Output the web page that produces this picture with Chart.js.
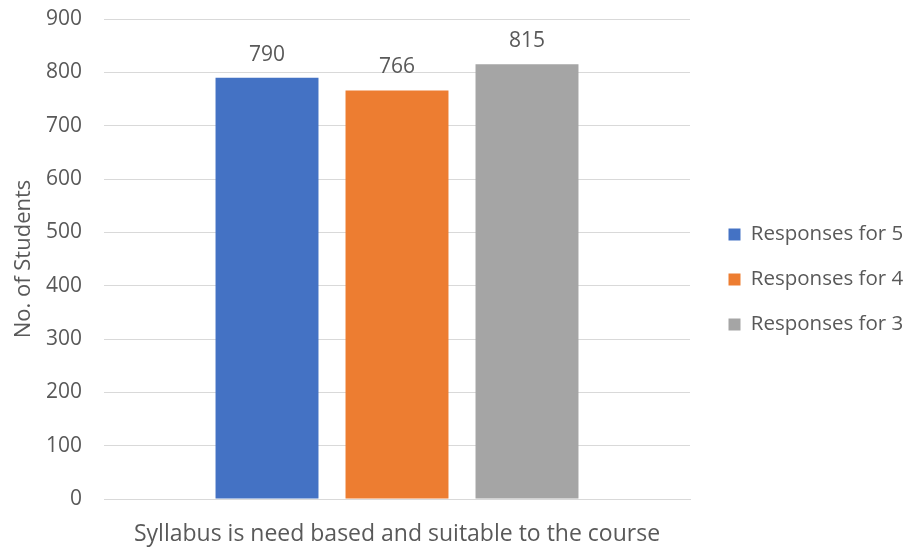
<!DOCTYPE html>
<html><head><meta charset="utf-8">
<script src="https://cdn.jsdelivr.net/npm/chart.js@4/dist/chart.umd.min.js"></script>
<style>html,body{margin:0;padding:0;background:#fff}#wrap{width:911px;height:551px}</style>
</head><body><div id="wrap"><canvas id="c"></canvas></div>
<script>
const categories = ["Syllabus is need based and suitable to the course"];
const seriesNames = ["Responses for 5", "Responses for 4", "Responses for 3"];
const resp5 = [790];
const resp4 = [766];
const resp3 = [815];
const colors = ["#4472C4", "#ED7D31", "#A5A5A5"];
const yTicks = [0,100,200,300,400,500,600,700,800,900];
const FONT = "'Open Sans', 'Noto Sans', sans-serif";
const TXT = "#595959";

const valueLabels = {
  id: 'valueLabels',
  afterDatasetsDraw(chart) {
    const ctx = chart.ctx;
    ctx.save();
    ctx.fillStyle = TXT;
    ctx.font = "21px " + FONT;
    ctx.textAlign = 'center';
    ctx.textBaseline = 'alphabetic';
    chart.data.datasets.forEach((ds, i) => {
      chart.getDatasetMeta(i).data.forEach((bar, j) => {
        ctx.fillText(String(ds.data[j]), bar.x, bar.y - 17);
      });
    });
    ctx.restore();
  }
};

// legend placement tweak: fixed width and shifted drawing
const legendTweak = {
  id: 'legendTweak',
  afterInit(chart) {
    const lg = chart.legend;
    if (!lg || lg._tweaked) return;
    lg._tweaked = true;
    const origFit = lg.fit.bind(lg);
    lg.fit = function () { origFit(); this.width = 221; this.minSize && (this.minSize.width = 221); };
    const origDraw = lg.draw.bind(lg);
    lg.draw = function () {
      const ctx = this.ctx;
      ctx.save(); ctx.translate(14, 4); origDraw(); ctx.restore();
    };
  }
};

const sets = [resp5, resp4, resp3];
new Chart(document.getElementById('c'), {
  type: 'bar',
  data: {
    labels: categories,
    datasets: sets.map((d, i) => ({
      label: seriesNames[i], data: d, backgroundColor: colors[i],
      categoryPercentage: 0.6655, barPercentage: 0.792
    }))
  },
  options: {
    responsive: true, maintainAspectRatio: false, animation: false,
    layout: { padding: { top: 0, right: 0, left: 4, bottom: 0 } },
    plugins: {
      tooltip: { enabled: false },
      legend: {
        position: 'right',
        labels: {
          color: TXT, font: { family: FONT, size: 20.5 },
          boxWidth: 12, boxHeight: 12, padding: 24.5
        }
      }
    },
    scales: {
      x: {
        grid: { display: false, drawTicks: false },
        border: { color: '#d9d9d9' },
        ticks: { color: TXT, font: { family: FONT, size: 23 }, padding: 22 },
        afterFit: (s) => { s.height = 52; }
      },
      y: {
        min: 0, max: 900,
        afterBuildTicks: (s) => { s.ticks = yTicks.map(v => ({ value: v })); },
        grid: { color: '#d9d9d9', drawTicks: false },
        border: { display: false },
        ticks: { color: TXT, font: { family: FONT, size: 21 }, padding: 22 },
        title: { display: true, text: 'No. of Students', color: TXT, font: { family: FONT, size: 22 }, padding: { top: 7, bottom: 0 } },
        afterFit: (s) => { s.width = 100; s.paddingTop = 19; s.paddingBottom = 0; }
      }
    }
  },
  plugins: [valueLabels, legendTweak]
});
</script></body></html>
